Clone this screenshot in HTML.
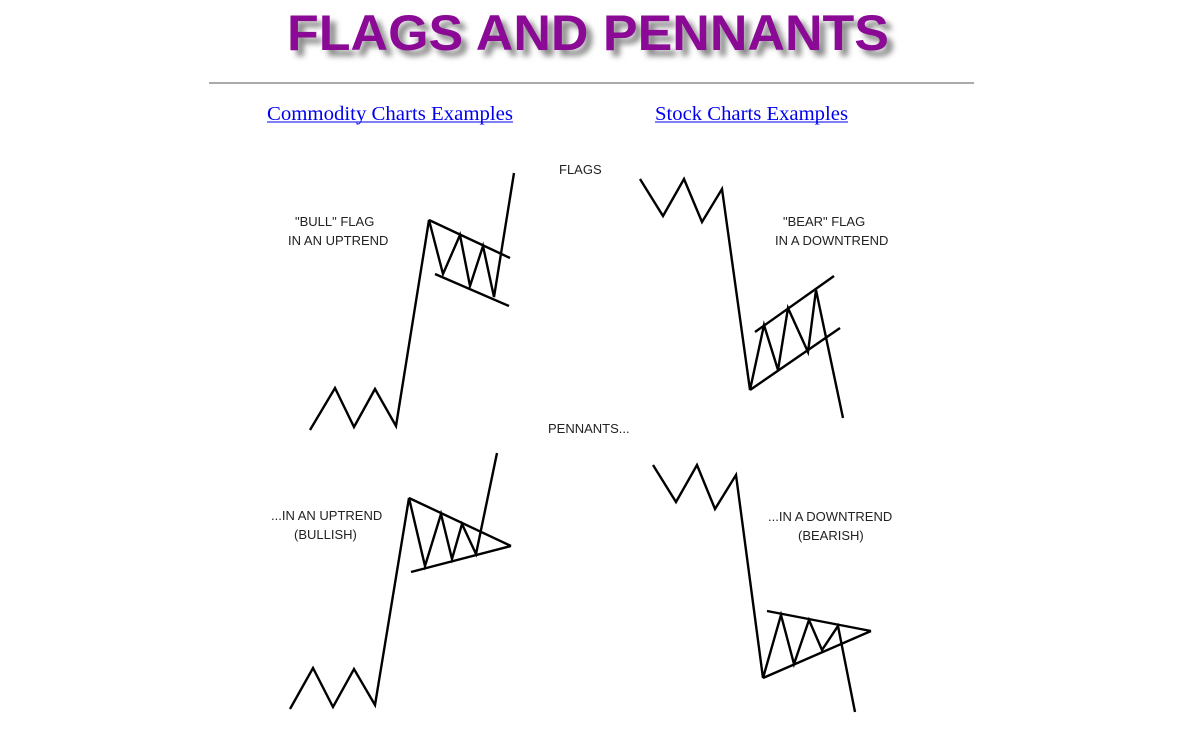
<!DOCTYPE html>
<html><head><meta charset="utf-8"><style>
html,body{margin:0;padding:0;background:#fff;}
svg{display:block;}
</style></head><body>
<svg width="1200" height="744" viewBox="0 0 1200 744" xmlns="http://www.w3.org/2000/svg">
<defs><filter id="sh" x="-5%" y="-20%" width="110%" height="150%"><feGaussianBlur stdDeviation="3"/></filter></defs>
<text x="293" y="56" font-family="Liberation Sans, sans-serif" font-weight="bold" font-size="50" fill="#888" filter="url(#sh)" textLength="602" lengthAdjust="spacingAndGlyphs">FLAGS AND PENNANTS</text>
<text x="287" y="50" font-family="Liberation Sans, sans-serif" font-weight="bold" font-size="50" fill="#8a0a96" textLength="602" lengthAdjust="spacingAndGlyphs">FLAGS AND PENNANTS</text>
<line x1="209" y1="83" x2="974" y2="83" stroke="#aaa" stroke-width="2"/>
<g font-family="Liberation Serif, serif" font-size="20" fill="#0000ee">
<text x="267" y="120" textLength="246" lengthAdjust="spacingAndGlyphs">Commodity Charts Examples</text>
<text x="655" y="120" textLength="193" lengthAdjust="spacingAndGlyphs">Stock Charts Examples</text>
</g>
<line x1="267" y1="122" x2="513" y2="122" stroke="#0000ee" stroke-width="1"/>
<line x1="655" y1="122" x2="848" y2="122" stroke="#0000ee" stroke-width="1"/>
<g font-family="Liberation Sans, sans-serif" font-size="13" fill="#222">
<text x="559" y="174">FLAGS</text>
<text x="295" y="226">"BULL" FLAG</text>
<text x="288" y="245">IN AN UPTREND</text>
<text x="783" y="226">"BEAR" FLAG</text>
<text x="775" y="245">IN A DOWNTREND</text>
<text x="548" y="433">PENNANTS...</text>
<text x="271" y="520">...IN AN UPTREND</text>
<text x="294" y="539">(BULLISH)</text>
<text x="768" y="521">...IN A DOWNTREND</text>
<text x="798" y="540">(BEARISH)</text>
</g>
<g fill="none" stroke="#000" stroke-width="2.4" stroke-linejoin="miter">
<polyline points="310,430 335,388 354,427 375,389 396,426 429,220 443,274 460,235 470,286 483,246 494,297 514,173"/>
<line x1="429" y1="220" x2="510" y2="258"/>
<line x1="435" y1="274" x2="509" y2="306"/>
<polyline points="640,179 663,216 684,179 702,222 722,189 750,390 764,325 778,370 788,308 808,352 816,290 843,418"/>
<line x1="755" y1="332" x2="834" y2="276"/>
<line x1="750" y1="390" x2="840" y2="328"/>
<polyline points="290,709 313,668 333,707 354,669 375,705 409,498 425,566 441,514 452,559 462,524 476,554 497,453"/>
<line x1="409" y1="498" x2="511" y2="546"/>
<line x1="411" y1="572" x2="511" y2="546"/>
<polyline points="653,465 676,502 697,465 715,509 736,475 763,678 781,615 794,664 809,620 822,650 838,626 855,712"/>
<line x1="767" y1="611" x2="871" y2="631"/>
<line x1="763" y1="678" x2="871" y2="631"/>
</g>
</svg>
</body></html>
